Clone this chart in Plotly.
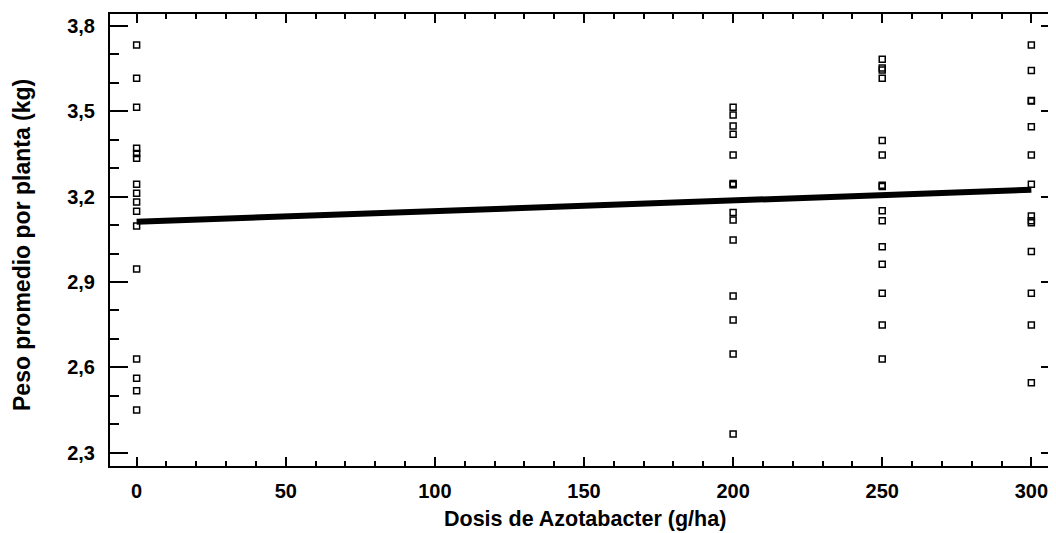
import plotly.graph_objects as go

# Observed values per dose (g/ha)
DOSE_0 = [3.733, 3.616, 3.514, 3.370, 3.352, 3.335, 3.244, 3.212, 3.181, 3.149,
          3.097, 2.946, 2.629, 2.562, 2.518, 2.450]
DOSE_200 = [3.514, 3.487, 3.448, 3.419, 3.346, 3.246, 3.242, 3.144, 3.118, 3.048,
            2.851, 2.766, 2.647, 2.366]
DOSE_250 = [3.683, 3.652, 3.645, 3.616, 3.397, 3.346, 3.240, 3.236, 3.150, 3.115,
            3.024, 2.962, 2.860, 2.749, 2.629]
DOSE_300 = [3.733, 3.643, 3.538, 3.536, 3.446, 3.346, 3.244, 3.132, 3.115, 3.108,
            3.007, 2.860, 2.749, 2.546]
DOSES = [0, 200, 250, 300]

# Fitted line endpoints
FIT_X = [0, 300]
FIT_Y = [3.112, 3.224]

X_TITLE = "Dosis de Azotabacter (g/ha)"
Y_TITLE = "Peso promedio por planta (kg)"

xs, ys = [], []
for d, vals in zip(DOSES, [DOSE_0, DOSE_200, DOSE_250, DOSE_300]):
    xs += [d] * len(vals)
    ys += vals

FONT = "Liberation Sans, Arial, sans-serif"

fig = go.Figure()
fig.add_trace(go.Scatter(
    x=FIT_X, y=FIT_Y, mode="lines",
    line=dict(color="black", width=6), hoverinfo="skip", showlegend=False))
fig.add_trace(go.Scatter(
    x=xs, y=ys, mode="markers",
    marker=dict(symbol="square-open", size=6, color="black",
                line=dict(color="black", width=1.5)),
    showlegend=False))

axis_common = dict(
    showgrid=False, zeroline=False, showline=True, linecolor="black", linewidth=2,
    ticks="inside", tickcolor="black", tickwidth=2, mirror="ticks",
    tickfont=dict(family=FONT, size=20, color="black", weight="bold"),
)

fig.update_xaxes(
    **axis_common, range=[-8.93, 309.27], tick0=0, dtick=50, ticklen=9,
    ticklabelstandoff=6,
    minor=dict(dtick=10, tick0=0, ticks="inside", ticklen=5, tickwidth=2, tickcolor="black"),
)
fig.update_yaxes(
    **axis_common, range=[2.2532, 3.842], tick0=2.3, dtick=0.3, tickformat=".1f",
    ticklen=18, ticklabelstandoff=9,
    minor=dict(dtick=0.1, tick0=2.3, ticks="inside", ticklen=9, tickwidth=2, tickcolor="black"),
)

fig.add_annotation(text=X_TITLE, xref="paper", yref="paper", x=0.5, y=0,
                   yshift=-53, xanchor="center", yanchor="middle", showarrow=False,
                   font=dict(family=FONT, size=21.5, color="black", weight="bold"))
fig.add_annotation(text=Y_TITLE, xref="paper", yref="paper", x=0, y=0.5,
                   xshift=-88, yshift=-5, xanchor="center", yanchor="middle",
                   textangle=-90, showarrow=False,
                   font=dict(family=FONT, size=23, color="black", weight="bold"))

# The page body adds an 8px margin, so the figure is offset accordingly.
fig.update_layout(
    width=1056, height=525, margin=dict(l=102, r=3, t=6, b=67),
    plot_bgcolor="white", paper_bgcolor="white", separators=",.",
)

fig.write_html("out.html")
